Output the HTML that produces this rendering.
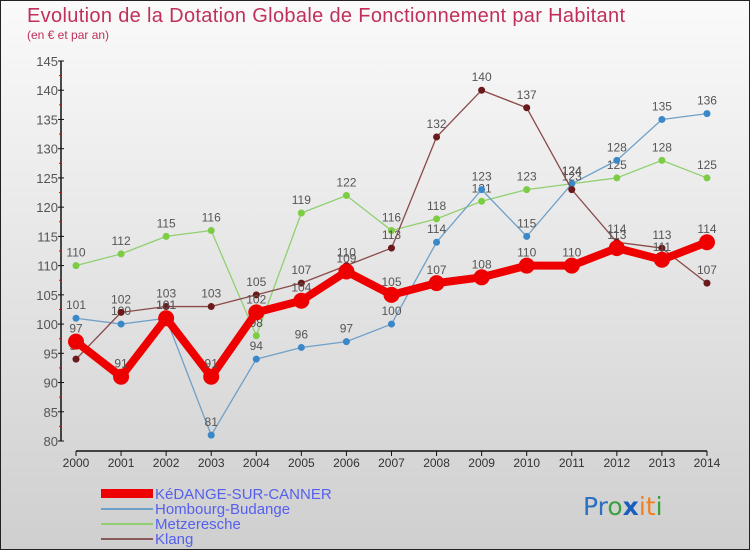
<!DOCTYPE html>
<html><head><meta charset="utf-8"><style>
html,body{margin:0;padding:0}
body{width:750px;height:550px;overflow:hidden;font-family:"Liberation Sans",sans-serif}
#wrap{position:relative;width:748px;height:548px;border:1px solid #222;background:linear-gradient(#fafafa,#cfcfcf)}
</style></head><body>
<div id="wrap">
<svg id="chart" width="748" height="548">
<text x="26" y="21" font-size="20" fill="#c0305a" textLength="598" lengthAdjust="spacing">Evolution de la Dotation Globale de Fonctionnement par Habitant</text>
<text x="26" y="38" font-size="12" fill="#c0305a">(en € et par an)</text>
<g id="axes"></g><g id="series"></g>
<g>
<rect x="100" y="488" width="52" height="9" fill="#e00"/>
<text x="154" y="498" font-size="15" fill="#5560ee">KéDANGE-SUR-CANNER</text>
<rect x="100" y="507" width="52" height="2" fill="#6fa0c8"/>
<text x="154" y="513" font-size="15" fill="#5560ee">Hombourg-Budange</text>
<rect x="100" y="522" width="52" height="2" fill="#90d070"/>
<text x="154" y="528" font-size="15" fill="#5560ee">Metzeresche</text>
<rect x="100" y="537" width="52" height="2" fill="#8a5a5a"/>
<text x="154" y="543" font-size="15" fill="#5560ee">Klang</text>
</g>
<text x="582" y="514" font-size="25" font-family="'DejaVu Sans',sans-serif"><tspan fill="#2a6fc0">Pr</tspan><tspan fill="#3aa040">o</tspan><tspan fill="#1a5fc0" font-weight="bold">x</tspan><tspan fill="#f08020">it</tspan><tspan fill="#3aa040">i</tspan></text>
</svg>
</div>
<script>
const years=[2000,2001,2002,2003,2004,2005,2006,2007,2008,2009,2010,2011,2012,2013,2014];
const yTicks=[80,85,90,95,100,105,110,115,120,125,130,135,140,145];
const kedange=[97,91,101,91,102,104,109,105,107,108,110,110,113,111,114];
const hombourg=[101,100,101,81,94,96,97,100,114,123,115,124,128,135,136];
const metzeresche=[110,112,115,116,98,119,122,116,118,121,123,124,125,128,125];
const klang=[94,102,103,103,105,107,110,113,132,140,137,123,114,113,107];
const NS="http://www.w3.org/2000/svg";
function xs(i){return 75+i*45.07;}
function ys(v){return 440-(v-80)*380/65;}
function mk(tag,attrs,parent){const e=document.createElementNS(NS,tag);for(const k in attrs)e.setAttribute(k,attrs[k]);parent.appendChild(e);return e;}
const ax=document.getElementById('axes'),sg=document.getElementById('series');
let yl=mk('line',{x1:60,y1:60,x2:60,y2:440,stroke:'#111','stroke-width':1.5},ax);


let xl=mk('line',{x1:75,y1:450,x2:706,y2:450,stroke:'#111','stroke-width':1.5},ax);


yTicks.forEach((v,i)=>{const y=ys(v);
 mk('line',{x1:57,y1:y,x2:63,y2:y,stroke:'#111'},ax);
 if(i<yTicks.length-1)mk('line',{x1:58,y1:ys(v+2.5),x2:61,y2:ys(v+2.5),stroke:'#e00'},ax);
 const t=mk('text',{x:57,y:y+5,'font-size':13,fill:'#555','text-anchor':'end'},ax);t.textContent=v;
 
 
});
years.forEach((yr,i)=>{const x=xs(i);
 mk('line',{x1:x,y1:450,x2:x,y2:455,stroke:'#111'},ax);
 const t=mk('text',{x:x,y:466,'font-size':12,fill:'#333','text-anchor':'middle'},ax);t.textContent=yr;
 
 
});
function series(data,color,w,r,dot,name){
 const p=mk('polyline',{points:data.map((v,i)=>xs(i)+','+ys(v)).join(' '),fill:'none',stroke:color,'stroke-width':w,'stroke-linejoin':'round'},sg);
 
 
 data.forEach((v,i)=>{const c=mk('circle',{cx:xs(i),cy:ys(v),r:r,fill:dot},sg);
  
  
  const t=mk('text',{x:xs(i),y:ys(v)-9,'font-size':12,fill:'#555','text-anchor':'middle'},sg);t.textContent=v;
  
  
 });
}
series(metzeresche,'#90d070',1.3,3.5,'#7ccc44','metzeresche');
series(hombourg,'#6fa0c8',1.3,3.5,'#3a88c8','hombourg');
series(klang,'#8a4a4a',1.3,3.5,'#6a1a1a','klang');
series(kedange,'#e00',8,8,'#e00','kedange');
</script>
</body></html>
